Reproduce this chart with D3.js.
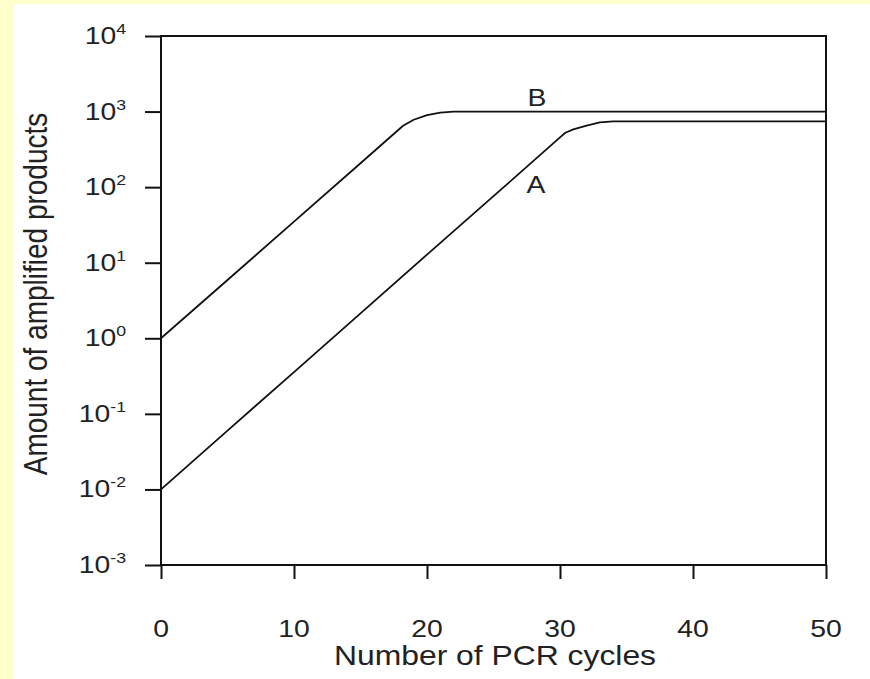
<!DOCTYPE html>
<html>
<head>
<meta charset="utf-8">
<script src="https://cdn.jsdelivr.net/npm/d3@7"></script>
<style>
  html, body { margin: 0; padding: 0; background: #ffffcc; }
  svg { display: block; }
  text { font-family: "Liberation Sans", Arial, sans-serif; fill: #222; }
</style>
</head>
<body>
<div id="app"></div>
<script>
// values
const cyclesB = [0, 5, 10, 15, 18.2, 19, 20, 21, 22, 50];
const valuesB = [1, 5.9, 35, 207, 650, 780, 900, 970, 1000, 1000];
const cyclesA = [0, 5, 10, 15, 20, 25, 30, 30.4, 31, 32, 33, 34, 50];
const valuesA = [0.01, 0.06, 0.357, 2.14, 12.8, 76, 455, 525, 580, 650, 720, 740, 740];
const xTicks = [0, 10, 20, 30, 40, 50];
const yExponents = [4, 3, 2, 1, 0, -1, -2, -3];
const curveLabels = ['B', 'A'];

const WIDTH = 870;
const HEIGHT = 679;
const SX = 1.18; // picture is stretched sideways a bit

const svg = d3.select('#app')
  .append('svg')
  .attr('width', WIDTH)
  .attr('height', HEIGHT);

// white panel over the yellow page
svg.append('rect')
  .attr('x', 14).attr('y', 4)
  .attr('width', WIDTH - 14).attr('height', HEIGHT - 4)
  .style('fill', 'white');

const x = d3.scaleLinear().domain([0, 50]).range([161, 826]);
const y = d3.scaleLog().domain([1e-3, 1e4]).range([565, 36]);

// frame
svg.append('rect')
  .attr('x', x(0)).attr('y', y(1e4))
  .attr('width', x(50) - x(0)).attr('height', y(1e-3) - y(1e4))
  .style('fill', 'none').style('stroke', '#111').style('stroke-width', 2);

// y axis
const yAxis = svg.append('g')
  .attr('transform', `translate(${x(0)},0)`)
  .call(d3.axisLeft(y).tickValues(yExponents.map(e => Math.pow(10, e))).tickSize(16).tickFormat(''));
yAxis.select('.domain').remove();
yAxis.selectAll('line').style('stroke', '#111').style('stroke-width', 2);

const yLab = svg.selectAll('.ylab')
  .data(yExponents)
  .enter()
  .append('text')
  .attr('class', 'ylab')
  .attr('transform', e => `translate(126,${y(Math.pow(10, e)) + 8}) scale(${SX},1)`)
  .attr('text-anchor', 'end')
  .style('font-size', '24px');
yLab.append('tspan').text('10');
yLab.append('tspan').attr('dy', -10).style('font-size', '15px').text(e => e);

// x axis
const xAxis = svg.append('g')
  .attr('transform', `translate(0,${y(1e-3)})`)
  .call(d3.axisBottom(x).tickValues(xTicks).tickSize(14).tickFormat(''));
xAxis.select('.domain').remove();
xAxis.selectAll('line').style('stroke', '#111').style('stroke-width', 2);

svg.selectAll('.xlab')
  .data(xTicks)
  .enter()
  .append('text')
  .attr('class', 'xlab')
  .attr('transform', d => `translate(${x(d)},637) scale(${SX},1)`)
  .attr('text-anchor', 'middle')
  .style('font-size', '24px')
  .text(d => d);

// axis titles
svg.append('text')
  .attr('transform', `translate(495,665) scale(${SX},1)`)
  .attr('text-anchor', 'middle')
  .style('font-size', '27px')
  .text('Number of PCR cycles');

svg.append('text')
  .attr('transform', `translate(47,294) scale(${SX},1) rotate(-90)`)
  .attr('text-anchor', 'middle')
  .style('font-size', '28px')
  .text('Amount of amplified products');

// curves
const line = d3.line()
  .x(d => x(d[0]))
  .y(d => y(d[1]));

[[cyclesB, valuesB], [cyclesA, valuesA]].forEach(([cs, vs]) => {
  svg.append('path')
    .datum(cs.map((c, i) => [c, vs[i]]))
    .attr('d', line)
    .style('fill', 'none')
    .style('stroke', '#111')
    .style('stroke-width', 1.8)
    .style('stroke-linejoin', 'round');
});

// curve labels
svg.selectAll('.clab')
  .data(curveLabels)
  .enter()
  .append('text')
  .attr('class', 'clab')
  .attr('transform', (d, i) => `translate(${i === 0 ? 537 : 536},${i === 0 ? 106 : 193}) scale(${SX},1)`)
  .attr('text-anchor', 'middle')
  .style('font-size', '24px')
  .text(d => d);
</script>
</body>
</html>
